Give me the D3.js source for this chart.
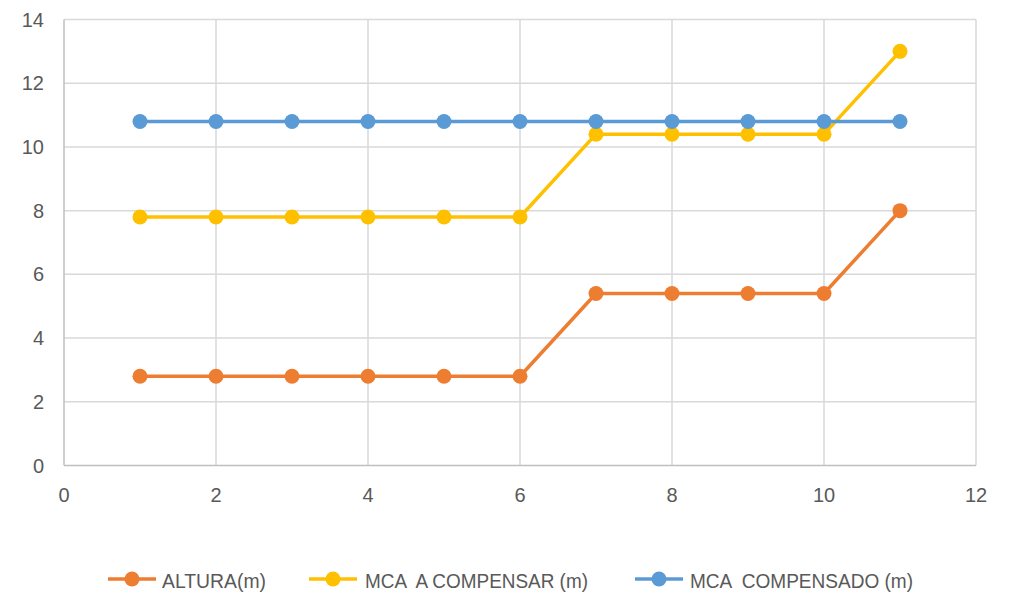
<!DOCTYPE html>
<html>
<head>
<meta charset="utf-8">
<script src="https://cdn.jsdelivr.net/npm/d3@7"></script>
<style>
  html, body { margin: 0; padding: 0; background: #fff; }
  svg text { font-family: "Liberation Sans", Arial, sans-serif; fill: #595959; white-space: pre; }
  svg text.legend { font-family: "Liberation Sans Narrow", "Liberation Sans", sans-serif; }
</style>
</head>
<body>
<svg id="chart" width="1009" height="592"></svg>
<script>
// Series data
const xValues = [1, 2, 3, 4, 5, 6, 7, 8, 9, 10, 11];
const altura = [2.8, 2.8, 2.8, 2.8, 2.8, 2.8, 5.4, 5.4, 5.4, 5.4, 8];
const mcaACompensar = [7.8, 7.8, 7.8, 7.8, 7.8, 7.8, 10.4, 10.4, 10.4, 10.4, 13];
const mcaCompensado = [10.8, 10.8, 10.8, 10.8, 10.8, 10.8, 10.8, 10.8, 10.8, 10.8, 10.8];
const seriesNames = ["ALTURA(m)", "MCA  A COMPENSAR (m)", "MCA  COMPENSADO (m)"];
const seriesColors = ["#ed7d31", "#ffc000", "#5b9bd5"];
const xTicks = [0, 2, 4, 6, 8, 10, 12];
const yTicks = [0, 2, 4, 6, 8, 10, 12, 14];

const series = [altura, mcaACompensar, mcaCompensado];

const svg = d3.select("#chart");
const x = d3.scaleLinear().domain([0, 12]).range([64, 976]);
const y = d3.scaleLinear().domain([0, 14]).range([465.5, 19.5]);

// Gridlines
svg.append("g").selectAll("line").data(yTicks.filter(d => d > 0)).join("line")
  .attr("x1", x(0)).attr("x2", x(12))
  .attr("y1", d => y(d)).attr("y2", d => y(d))
  .attr("stroke", "#d9d9d9").attr("stroke-width", 1.5);
svg.append("g").selectAll("line").data(xTicks.filter(d => d > 0)).join("line")
  .attr("x1", d => x(d)).attr("x2", d => x(d))
  .attr("y1", y(0)).attr("y2", y(14))
  .attr("stroke", "#d9d9d9").attr("stroke-width", 1.5);

// Axis lines
svg.append("line").attr("x1", x(0)).attr("x2", x(0)).attr("y1", y(0)).attr("y2", y(14))
  .attr("stroke", "#bfbfbf").attr("stroke-width", 1.5);
svg.append("line").attr("x1", x(0)).attr("x2", x(12)).attr("y1", y(0)).attr("y2", y(0))
  .attr("stroke", "#bfbfbf").attr("stroke-width", 1.5);

// Tick labels
svg.append("g").selectAll("text").data(yTicks).join("text")
  .attr("x", 44).attr("y", d => y(d) + 7)
  .attr("text-anchor", "end").attr("font-size", 20)
  .text(d => d);
svg.append("g").selectAll("text").data(xTicks).join("text")
  .attr("x", d => x(d)).attr("y", 502)
  .attr("text-anchor", "middle").attr("font-size", 20)
  .text(d => d);

// Lines and markers
const line = d3.line().x((d, i) => x(xValues[i])).y(d => y(d));
series.forEach((vals, k) => {
  svg.append("path").datum(vals)
    .attr("d", line).attr("fill", "none")
    .attr("stroke", seriesColors[k]).attr("stroke-width", 3.5)
    .attr("stroke-linejoin", "round");
  svg.append("g").selectAll("circle").data(vals).join("circle")
    .attr("cx", (d, i) => x(xValues[i])).attr("cy", d => y(d))
    .attr("r", 7.5).attr("fill", seriesColors[k]);
});

// Legend
const legendMarkerX = [132, 333, 659];
const legendTextX = [162, 365, 690];
const legendTextWidth = [104, 223, 223];
const legendY = 579;
seriesNames.forEach((name, k) => {
  const g = svg.append("g");
  g.append("line").attr("x1", legendMarkerX[k] - 24).attr("x2", legendMarkerX[k] + 24)
    .attr("y1", legendY).attr("y2", legendY)
    .attr("stroke", seriesColors[k]).attr("stroke-width", 3.5);
  g.append("circle").attr("cx", legendMarkerX[k]).attr("cy", legendY).attr("r", 7.5)
    .attr("fill", seriesColors[k]);
  g.append("text").attr("class", "legend")
    .attr("x", legendTextX[k]).attr("y", legendY + 9)
    .attr("font-size", 21)
    .attr("textLength", legendTextWidth[k]).attr("lengthAdjust", "spacingAndGlyphs")
    .text(name);
});
</script>
</body>
</html>
